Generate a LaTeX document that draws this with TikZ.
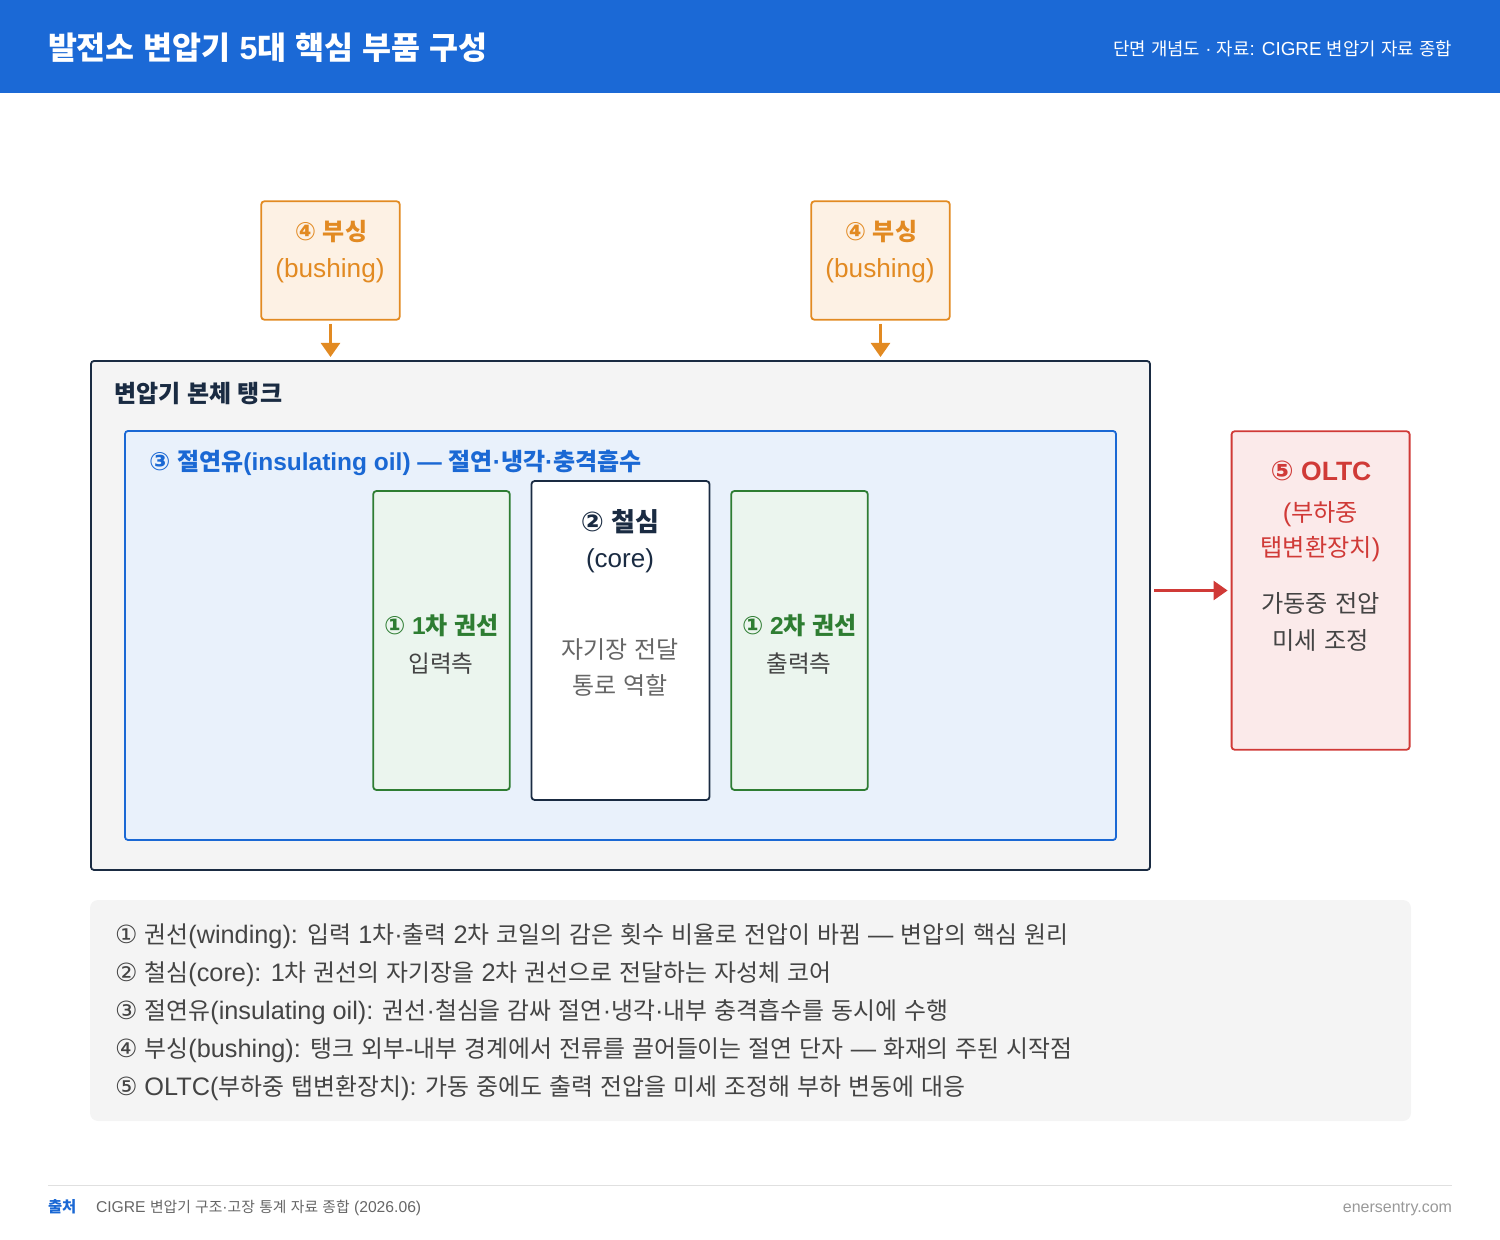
\documentclass[tikz,border=0pt]{standalone}
\usepackage{fontspec}
\usetikzlibrary{arrows.meta}
\setmainfont[UprightFeatures={Scale=1.06},BoldFeatures={Scale=1.02}]{Liberation Sans}
\newfontfamily\latf[UprightFeatures={Scale=1.06},BoldFeatures={Scale=1.02}]{Liberation Sans}
\newfontfamily\cjk{Noto Sans CJK KR}
\newfontfamily\circf[Scale=1.05]{DejaVu Sans}
\chardef\hclass=10
\chardef\cclass=11
\newcount\hcnt
\hcnt="AC00
\loop\ifnum\hcnt<"D7A4 \XeTeXcharclass\hcnt=\hclass \advance\hcnt by 1 \repeat
\hcnt="2460
\loop\ifnum\hcnt<"2469 \XeTeXcharclass\hcnt=\cclass \advance\hcnt by 1 \repeat
\XeTeXinterchartokenstate=1
\XeTeXinterchartoks 0 \hclass={\cjk}
\XeTeXinterchartoks 4095 \hclass={\cjk}
\XeTeXinterchartoks \hclass 0={\latf}
\XeTeXinterchartoks \hclass 4095={\latf}
\XeTeXinterchartoks 0 \cclass={\circf}
\XeTeXinterchartoks 4095 \cclass={\circf}
\XeTeXinterchartoks \cclass 0={\latf}
\XeTeXinterchartoks \cclass 4095={\latf}
\newcommand{\fsz}[1]{\fontsize{#1}{#1}\selectfont}
\definecolor{hdr}{HTML}{1B69D6}
\definecolor{org}{HTML}{E28A22}
\definecolor{orgf}{HTML}{FDF1E4}
\definecolor{blu}{HTML}{1A68D4}
\definecolor{bluf}{HTML}{E9F1FB}
\definecolor{grn}{HTML}{2E7D32}
\definecolor{grnf}{HTML}{EBF5EE}
\definecolor{redc}{HTML}{D03A37}
\definecolor{redf}{HTML}{FBEAEA}
\definecolor{navy}{HTML}{1A2B42}
\definecolor{panel}{HTML}{F4F4F4}
\definecolor{txt}{HTML}{444444}
\definecolor{mut}{HTML}{666666}
\definecolor{foot}{HTML}{666666}
\definecolor{faint}{HTML}{999999}
\tikzset{
  x=0.5pt,y=-0.5pt,
  boxn/.style={draw,line width=0.9pt,rounded corners=1.5pt,inner sep=0pt,outer sep=0pt},
  bushbox/.style={boxn,draw=org,fill=orgf,minimum width=69.2pt,minimum height=59.2pt},
  windbox/.style={boxn,draw=grn,fill=grnf,minimum width=68.25pt,minimum height=149.4pt},
  lab/.style={inner sep=0pt,outer sep=0pt,anchor=base},
  labl/.style={lab,anchor=base west},
  labr/.style={lab,anchor=base east},
  conn/.style={line width=1.25pt,-{Triangle[length=7pt,width=9.5pt]},shorten <=2pt,shorten >=2pt},
}
\begin{document}
\begin{tikzpicture}
\useasboundingbox (0,0) rectangle (1500,1240);
\fill[hdr] (0,0) rectangle (1500,93);
\node[labl,text=white] (title) at (48,60) {\fsz{15.75}\bfseries 발전소 변압기 5대 핵심 부품 구성};
\node[labr,text=white] (subt) at (1452,56) {\fsz{8.9}단면 개념도 · 자료: CIGRE 변압기 자료 종합};

\node[bushbox] (b1) at (330.5,260.5) {};
\node[bushbox] (b2) at (880.5,260.5) {};
\node[lab,text=org] (b1t) at (331,241) {\fsz{12}\bfseries ④ 부싱};
\node[lab,text=org] (b1s) at (330,278) {\fsz{12.36}(bushing)};
\node[lab,text=org] (b2t) at (881,241) {\fsz{12}\bfseries ④ 부싱};
\node[lab,text=org] (b2s) at (880,278) {\fsz{12.36}(bushing)};

\node[boxn,draw=navy,fill=panel,minimum width=529.5pt,minimum height=254.5pt] (tank) at (620.5,615.5) {};
\node[labl,text=navy] (tankl) at (114,403) {\fsz{12}\bfseries 변압기 본체 탱크};

\node[boxn,draw=blu,fill=bluf,minimum width=495.5pt,minimum height=204.5pt] (oil) at (620.5,635.5) {};
\node[labl,text=blu] (oill) at (149,471) {\fsz{12}\bfseries ③ 절연유(insulating oil) — 절연·냉각·충격흡수};

\node[windbox] (w1) at (441.5,640.5) {};
\node[lab,text=grn] (w1t) at (441.5,635) {\fsz{12}\bfseries ① 1차 권선};
\node[lab,text=txt] (w1s) at (441,673) {\fsz{11.8}입력측};
\node[boxn,draw=navy,fill=white,minimum width=89pt,minimum height=159.4pt] (core) at (620.5,640.5) {};
\node[lab,text=navy] (coret) at (620,532) {\fsz{13}\bfseries ② 철심};
\node[lab,text=navy] (cores) at (620,568) {\fsz{12.26}(core)};
\node[lab,text=mut] (corea) at (620,659) {\fsz{12}자기장 전달};
\node[lab,text=mut] (coreb) at (620,695) {\fsz{12}통로 역할};
\node[windbox] (w2) at (799.5,640.5) {};
\node[lab,text=grn] (w2t) at (799.5,635) {\fsz{12}\bfseries ① 2차 권선};
\node[lab,text=txt] (w2s) at (799,673) {\fsz{11.8}출력측};

\node[boxn,draw=redc,fill=redf,minimum width=89pt,minimum height=159.2pt] (oltc) at (1320.6,590.5) {};
\node[lab,text=redc] (oltct) at (1321,481) {\fsz{13}\bfseries ⑤ OLTC};
\node[lab,text=redc] (oltca) at (1320.5,522) {\fsz{12.1}(부하중};
\node[lab,text=redc] (oltcb) at (1320.5,557) {\fsz{12.1}탭변환장치)};
\node[lab,text=txt] (oltcc) at (1320.5,613) {\fsz{12.1}가동중 전압};
\node[lab,text=txt] (oltcd) at (1320.5,650) {\fsz{12.1}미세 조정};

\draw[conn,draw=org,fill=org] (b1.south) -- (b1.south |- tank.north);
\draw[conn,draw=org,fill=org] (b2.south) -- (b2.south |- tank.north);
\draw[conn,draw=redc,fill=redc] (tank.east |- oltc.west) -- (oltc.west);

\node[fill=panel,rounded corners=4pt,inner sep=0pt,outer sep=0pt,minimum width=660.5pt,minimum height=110.5pt] (legend) at (750.5,1010.5) {};
\node[labl,text=txt] (l1) at (115,943) {\fsz{11.93}① 권선(winding): 입력 1차·출력 2차 코일의 감은 횟수 비율로 전압이 바뀜 — 변압의 핵심 원리};
\node[labl,text=txt] (l2) at (115,981) {\fsz{11.93}② 철심(core): 1차 권선의 자기장을 2차 권선으로 전달하는 자성체 코어};
\node[labl,text=txt] (l3) at (115,1019) {\fsz{11.93}③ 절연유(insulating oil): 권선·철심을 감싸 절연·냉각·내부 충격흡수를 동시에 수행};
\node[labl,text=txt] (l4) at (115,1057) {\fsz{11.93}④ 부싱(bushing): 탱크 외부-내부 경계에서 전류를 끌어들이는 절연 단자 — 화재의 주된 시작점};
\node[labl,text=txt] (l5) at (115,1095) {\fsz{11.93}⑤ OLTC(부하중 탭변환장치): 가동 중에도 출력 전압을 미세 조정해 부하 변동에 대응};

\draw[draw=black!12,line width=0.5pt] (48,1185) -- (1452,1185);
\node[labl,text=blu] (src) at (48,1212) {\fsz{7.7}\bfseries 출처};
\node[labl,text=foot] (srct) at (96,1212) {\fsz{7.4}CIGRE 변압기 구조·고장 통계 자료 종합 (2026.06)};
\node[labr,text=faint] (site) at (1452,1212) {\fsz{7.55}enersentry.com};
\end{tikzpicture}
\end{document}
